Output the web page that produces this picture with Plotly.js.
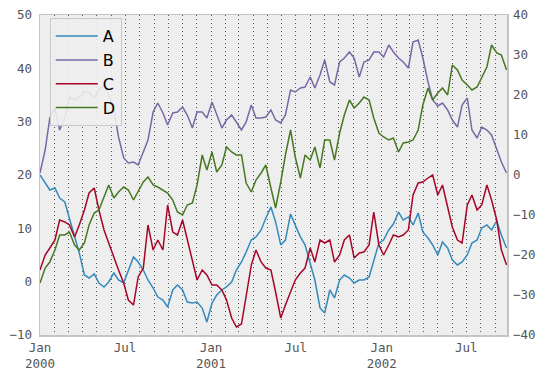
<!DOCTYPE html>
<html>
<head>
<meta charset="utf-8">
<script src="https://cdn.plot.ly/plotly-3.0.1.min.js"></script>
<style>html,body{margin:0;padding:0;background:#fff;}#chart{width:547px;height:376px;}</style>
</head>
<body>
<div id="chart"></div>
<script>
// Dates (sampled index)
const dates = ['2000-01-01','2000-01-12','2000-01-22','2000-02-02','2000-02-12','2000-02-23','2000-03-04','2000-03-15','2000-03-25','2000-04-05',
'2000-04-15','2000-04-26','2000-05-06','2000-05-17','2000-05-27','2000-06-07','2000-06-17','2000-06-28','2000-07-08','2000-07-19',
'2000-07-29','2000-08-09','2000-08-19','2000-08-30','2000-09-09','2000-09-20','2000-09-30','2000-10-11','2000-10-21','2000-11-01',
'2000-11-11','2000-11-22','2000-12-02','2000-12-13','2000-12-23','2001-01-03','2001-01-13','2001-01-24','2001-02-03','2001-02-14',
'2001-02-24','2001-03-07','2001-03-17','2001-03-28','2001-04-07','2001-04-18','2001-04-28','2001-05-09','2001-05-19','2001-05-30',
'2001-06-09','2001-06-20','2001-06-30','2001-07-11','2001-07-21','2001-08-01','2001-08-11','2001-08-22','2001-09-01','2001-09-12',
'2001-09-22','2001-10-03','2001-10-13','2001-10-24','2001-11-03','2001-11-14','2001-11-24','2001-12-05','2001-12-15','2001-12-26',
'2002-01-05','2002-01-16','2002-01-26','2002-02-06','2002-02-16','2002-02-27','2002-03-09','2002-03-20','2002-03-30','2002-04-10',
'2002-04-20','2002-05-01','2002-05-11','2002-05-22','2002-06-01','2002-06-12','2002-06-22','2002-07-03','2002-07-13','2002-07-24',
'2002-08-03','2002-08-14','2002-08-24','2002-09-04','2002-09-14','2002-09-25'];

const seriesA = [20.0,18.5,17.19,17.56,15.69,14.94,11.94,8.38,5.38,1.25,
0.69,1.44,-0.25,-1.0,-0.06,1.63,0.31,-0.25,2.19,4.63,
3.69,2.19,0.31,-1.19,-2.88,-3.44,-4.75,-1.56,-0.63,-1.56,
-3.81,-4.0,-3.81,-4.94,-7.56,-4.0,-2.5,-1.56,-1.0,-0.06,
2.19,3.69,5.56,7.81,8.4,9.7,11.9,14.0,11.2,6.9,
7.8,12.7,10.6,8.4,6.9,3.69,0.31,-4.94,-5.88,-1.56,
-3.06,0.3,1.25,0.69,-0.25,0.31,0.31,0.88,4.06,7.25,
7.81,9.69,10.81,13.06,11.56,12.13,10.63,12.88,9.31,8.19,
6.88,5.0,7.44,6.31,4.06,3.13,3.69,5.0,7.25,7.81,
10.06,10.63,9.69,11.38,8.75,6.31];

const seriesB = [0.5,6.25,14.25,16.75,11.25,14.25,19.5,18.75,19.5,20.75,
20.75,19.25,21.25,22.5,20.0,16.25,9.5,4.25,3.0,3.25,
2.5,5.75,8.75,15.75,18.0,15.5,12.5,15.5,15.75,17.0,
15.0,11.75,15.75,15.75,14.25,18.25,15.0,11.75,13.75,15.0,
13.25,11.25,13.25,17.5,14.25,14.25,14.5,16.25,13.75,13.0,
15.0,21.25,20.75,21.75,22.0,24.5,21.75,25.0,28.75,23.25,
22.5,28.25,29.25,30.75,29.25,24.5,28.25,28.75,30.75,30.75,
29.5,32.5,30.75,29.25,28.25,26.75,33.25,33.75,29.25,23.25,
18.75,17.25,18.0,16.25,13.75,12.0,17.5,19.25,11.25,9.25,
12.0,11.25,10.0,6.25,3.25,0.5];

const seriesC = [2.19,5.0,6.31,7.81,11.56,11.19,10.63,8.38,10.63,13.44,
16.63,17.56,13.44,9.69,7.25,4.44,2.19,-0.25,-3.44,-4.38,
0.88,2.56,10.63,5.94,7.81,5.94,14.38,9.31,8.75,11.56,
7.81,3.69,0.31,2.19,1.25,-0.63,-0.63,-1.56,-3.44,-6.81,
-8.5,-7.94,-2.5,3.1,5.94,3.69,2.56,2.19,-1.94,-6.81,
-4.38,-1.94,0.31,1.63,2.56,6.31,3.69,7.81,7.25,7.81,
3.69,5.0,7.81,8.75,4.44,5.38,5.56,6.88,13.06,6.88,
5.0,6.88,8.75,8.38,8.75,9.69,16.25,18.5,18.69,19.44,
20.0,16.25,18.13,14.0,10.25,7.81,7.25,14.38,16.25,13.44,
14.38,18.13,15.31,11.56,5.94,3.13];

const seriesD = [-27.0,-23.25,-21.75,-18.75,-15.0,-15.0,-14.25,-17.5,-18.75,-17.0,
-12.5,-9.5,-8.75,-5.5,-2.5,-5.75,-4.25,-3.0,-3.75,-6.25,
-4.25,-1.75,-0.5,-2.5,-3.0,-3.75,-4.5,-6.25,-9.25,-10.0,
-7.5,-7.0,-2.5,5.0,1.25,5.75,0.75,2.5,7.0,5.75,
5.0,5.0,-2.0,-4.25,-1.25,0.5,2.5,-3.25,-8.25,-1.75,
5.0,11.25,4.5,-0.75,5.0,3.75,7.0,1.75,8.75,8.75,
3.75,10.5,15.0,18.75,16.75,18.0,19.5,18.75,14.25,10.5,
9.5,8.75,9.25,5.75,8.0,8.25,8.75,11.25,17.5,21.75,
18.75,20.5,21.75,20.0,27.5,26.25,23.75,22.5,21.25,22.0,
24.25,27.0,32.5,30.5,30.0,26.25];

const seriesNames = ['A','B','C','D'];
// Monthly tick positions (dotted grid) and their labels
const monthTicks = ['2000-01-01','2000-02-01','2000-03-01','2000-04-01','2000-05-01','2000-06-01',
'2000-07-01','2000-08-01','2000-09-01','2000-10-01','2000-11-01','2000-12-01',
'2001-01-01','2001-02-01','2001-03-01','2001-04-01','2001-05-01','2001-06-01',
'2001-07-01','2001-08-01','2001-09-01','2001-10-01','2001-11-01','2001-12-01',
'2002-01-01','2002-02-01','2002-03-01','2002-04-01','2002-05-01','2002-06-01',
'2002-07-01','2002-08-01','2002-09-01'];
const monthLabels = ['Jan<br>2000','','','','','','Jul','','','','','',
'Jan<br>2001','','','','','','Jul','','','','','',
'Jan<br>2002','','','','','','Jul','',''];

const colors = {A:'#348ABD', B:'#7A68A6', C:'#A60628', D:'#467821'};
const lw = 1.5;

const traces = [
  {x: dates, y: seriesA, name: seriesNames[0], type: 'scatter', mode: 'lines', line: {color: colors.A, width: lw}, yaxis: 'y'},
  {x: dates, y: seriesB, name: seriesNames[1], type: 'scatter', mode: 'lines', line: {color: colors.B, width: lw}, yaxis: 'y2'},
  {x: dates, y: seriesC, name: seriesNames[2], type: 'scatter', mode: 'lines', line: {color: colors.C, width: lw}, yaxis: 'y'},
  {x: dates, y: seriesD, name: seriesNames[3], type: 'scatter', mode: 'lines', line: {color: colors.D, width: lw}, yaxis: 'y2'}
];

const tickFont = {family: 'DejaVu Sans Mono', size: 12.5, color: '#555'};
const layout = {
  width: 547, height: 376,
  margin: {l: 40, r: 40, t: 15, b: 41, pad: 0},
  paper_bgcolor: '#ffffff', plot_bgcolor: '#EEEEEE',
  font: tickFont,
  showlegend: true,
  legend: {x: 0.021, y: 0.99, xanchor: 'left', yanchor: 'top',
    bgcolor: 'rgba(238,238,238,0.9)', bordercolor: '#c8c8c8', borderwidth: 1,
    itemwidth: 42,
    font: {family: 'DejaVu Sans', size: 16, color: '#000'}, tracegroupgap: 0},
  xaxis: {type: 'date', range: ['2000-01-01', '2002-09-26'],
    tickmode: 'array', tickvals: monthTicks, ticktext: monthLabels, ticks: '',
    tickfont: tickFont,
    showgrid: true, griddash: '1px,3px', gridcolor: '#555', gridwidth: 1,
    showline: true, mirror: true, linecolor: '#c4c4c4', linewidth: 1.5, zeroline: false},
  yaxis: {range: [-10, 50], tickmode: 'linear', tick0: 0, dtick: 10, showgrid: false, zeroline: false,
    ticks: '', ticklabelstandoff: 4, tickfont: tickFont,
    showline: true, mirror: true, linecolor: '#c4c4c4', linewidth: 1.5},
  yaxis2: {range: [-40, 40], tickmode: 'linear', tick0: 0, dtick: 10, overlaying: 'y', side: 'right',
    showgrid: false, zeroline: false, ticks: '', ticklabelstandoff: 5, tickfont: tickFont, showline: false}
};

Plotly.newPlot('chart', traces, layout, {displayModeBar: false, staticPlot: true});
</script>
</body>
</html>
